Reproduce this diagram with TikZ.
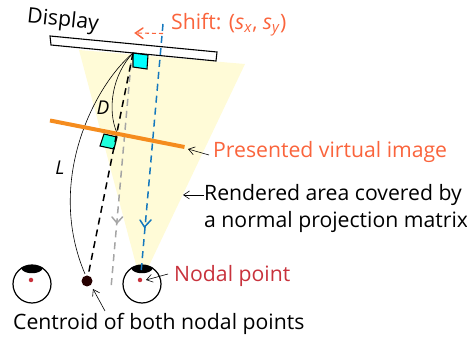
\documentclass[tikz,border=0pt]{standalone}
\usepackage{fontspec}
\setmainfont{Open Sans}
\usetikzlibrary{arrows.meta}
\definecolor{coral}{RGB}{250,100,60}
\definecolor{nodalred}{RGB}{200,50,60}
\definecolor{paleyellow}{RGB}{255,251,215}
\definecolor{cyanbox}{RGB}{0,255,255}
\definecolor{cyanboxb}{RGB}{30,255,220}
\definecolor{orangebar}{RGB}{245,140,30}
\definecolor{blueline}{RGB}{20,120,190}
\definecolor{grayline}{RGB}{165,165,165}
\tikzset{
  lbl/.style={inner sep=0pt,anchor=west,font=\fontsize{21.2}{24}\selectfont},
  thinarrow/.style={line width=.6pt,black,-{Straight Barb[length=6pt,width=8pt,line width=.6pt]}},
  dashline/.style={line width=1.5pt,dash pattern=on 7pt off 5pt},
  vhead/.style={line width=1.5pt,line cap=round,line join=miter},
  curveline/.style={line width=.6pt,black},
  eye/.style={circle,draw=black,line width=1.2pt,minimum size=38pt,inner sep=0pt,fill=white},
  reddot/.style={circle,fill=nodalred,minimum size=4.5pt,inner sep=0pt},
}
\begin{document}
\begin{tikzpicture}[x=1pt,y=-1pt]
\useasboundingbox (0,0) rectangle (467,342);
% rendered area
\fill[paleyellow] (79,50) -- (245,64) -- (146,272) -- (138,272) -- cycle;
% eyes
\node[eye] (eyeL) at (32,284) {};
\node[eye] (eyeR) at (142,284) {};
\fill[black] (21,268) .. controls (25,264) and (39,264) .. (43,268) .. controls (41,275) and (23,275) .. (21,268) -- cycle;
\fill[black] (131,268) .. controls (135,264) and (149,264) .. (153,268) .. controls (151,275) and (133,275) .. (131,268) -- cycle;
\node[reddot] (dotL) at (31,280) {};
\node[reddot] (dotR) at (140,280) {};
\node[circle,fill=black!85!red,minimum size=11pt,inner sep=0pt] (centroid) at (87,281) {};
% display
\draw[black,line width=1.1pt,fill=white] (50,36) -- (217,52) -- (216,61) -- (51,45) -- cycle;
% cyan boxes
\draw[black,line width=1.1pt,fill=cyanbox] (133,53) -- (148,55) -- (147,69) -- (133,67) -- cycle;
\draw[black,line width=1.1pt,fill=cyanboxb] (104,134) -- (117,137) -- (114,149) -- (100,146) -- cycle;
\coordinate (top) at (133,53);
\coordinate (grayA) at (131,63);
\coordinate (grayB) at (111,288);
\coordinate (grayTip) at (117,223);
\coordinate (blueA) at (163,24);
\coordinate (blueB) at (141,273);
\coordinate (blueTip) at (144.5,227);
\coordinate (shiftA) at (163,33.5);
\coordinate (shiftB) at (136,33);
\coordinate (lEnd) at (85,274);
\coordinate (dEnd) at (117,133);
% gray
\draw[grayline,dashline] (grayA) -- (grayB);
\draw[grayline,vhead] (112,217) -- (grayTip) -- (122.5,217);
% black dashed
\draw[black,dashline] (top) -- (centroid);
% curves
\draw[curveline] (top) .. controls (95,85) and (45,180) .. (lEnd);
\draw[curveline] (top) .. controls (112,75) and (107,110) .. (dEnd);
% orange bar
\coordinate (barA) at (50,120.5);
\coordinate (barB) at (184.5,147);
\draw[orangebar,line width=4pt] (barA) -- (barB);
% blue
\draw[blueline,dashline] (blueA) -- (blueB);
\draw[blueline,vhead] (140,220) -- (blueTip) -- (151,220);
% shift arrow
\draw[coral,line width=1.1pt,dash pattern=on 4pt off 3pt] (shiftA) -- (shiftB);
\draw[coral,vhead] (143,28) -- (135.5,33) -- (143,38.5);
% labels
\node[rotate=-6,inner sep=0pt,font=\fontsize{21.2}{24}\selectfont] (display) at (63,21) {Display};
\node[lbl,text=coral] (shift) at (171,25) {Shift: (\textit{s}\textsubscript{\textit{x}}, \textit{s}\textsubscript{\textit{y}})};
\node[lbl,font=\fontsize{19}{22}\selectfont\itshape,anchor=center] (dl) at (103,108) {D};
\node[lbl,font=\fontsize{19}{22}\selectfont\itshape,anchor=center] (ll) at (60,168) {L};
\node[lbl,text=coral] (pres) at (213,152) {Presented virtual image};
\node[lbl] (rend) at (204,195) {Rendered area covered by};
\node[lbl] (rend2) at (204,222) {a normal projection matrix};
\node[lbl,text=nodalred] (nodal) at (174,276) {Nodal point};
\node[lbl] (cent) at (13,324) {Centroid of both nodal points};
% pointers
\coordinate (presTail) at (209,155);
\coordinate (presTip) at (188,149);
\coordinate (rendTip) at (183,195);
\coordinate (nodalTail) at (168,274);
\coordinate (nodalTip) at (146,280);
\coordinate (centTail) at (105,311);
\coordinate (centTip) at (93,289);
\draw[thinarrow] (presTail) -- (presTip);
\draw[thinarrow] (rend.west) -- (rendTip);
\draw[thinarrow] (nodalTail) -- (nodalTip);
\draw[thinarrow] (centTail) -- (centTip);
\end{tikzpicture}
\end{document}
